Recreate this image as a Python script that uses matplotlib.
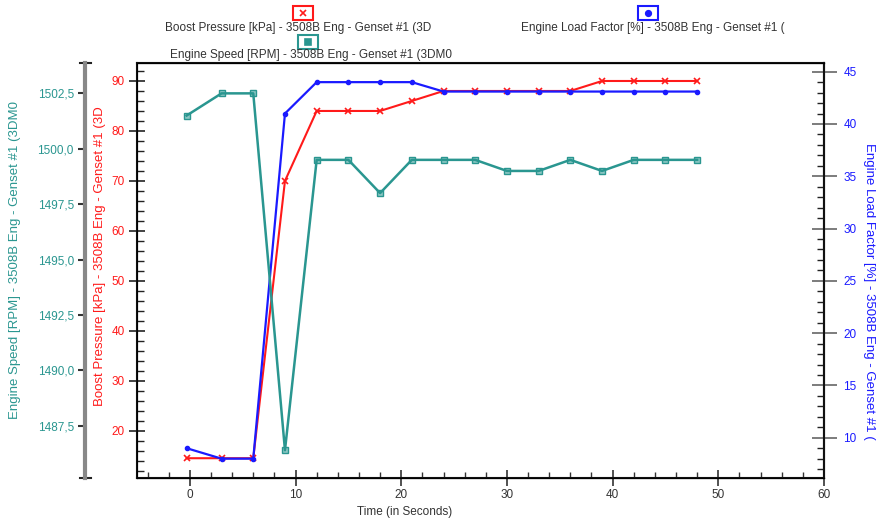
import matplotlib.pyplot as plt
from matplotlib.lines import Line2D
from matplotlib.patches import Rectangle
from matplotlib.ticker import MultipleLocator, FuncFormatter

plt.rcParams['font.family'] = ['Liberation Sans', 'DejaVu Sans']

# dati
time_s = [-0.3, 3, 6, 9, 12, 15, 18, 21, 24, 27, 30, 33, 36, 39, 42, 45, 48]
boost = [14.5, 14.5, 14.5, 70, 84, 84, 84, 86, 88, 88, 88, 88, 88, 90, 90, 90, 90]
load = [9, 8, 8, 41, 44, 44, 44, 44, 43.1, 43.1, 43.1, 43.1, 43.1, 43.1, 43.1, 43.1, 43.1]
speed = [1501.5, 1502.5, 1502.5, 1486.4, 1499.5, 1499.5, 1498, 1499.5, 1499.5, 1499.5,
         1499, 1499, 1499.5, 1499, 1499.5, 1499.5, 1499.5]

lbl_boost = "Boost Pressure [kPa] - 3508B Eng - Genset #1 (3D"
lbl_load = "Engine Load Factor [%] - 3508B Eng - Genset #1 ("
lbl_speed = "Engine Speed [RPM] - 3508B Eng - Genset #1 (3DM0"

RED = '#ff1a1a'
BLUE = '#1a1aff'
TEAL = '#2a9690'
FS = 8.5      # testi orizzontali
FSV = 9.5     # etichette verticali

W, H = 879, 522
fig = plt.figure(figsize=(W / 100, H / 100), dpi=100)
ax = fig.add_axes([137 / W, 1 - 477.7 / H, 687 / W, 414.7 / H])
ax_load = ax.twinx()
ax_speed = ax.twinx()

# linee
ax_speed.plot(time_s, speed, color=TEAL, lw=1.8, marker='s', ms=4,
              mfc=TEAL + '88', mec=TEAL, zorder=2)
ax.plot(time_s, boost, color=RED, lw=1.5, marker='x', ms=4, mew=1.2, zorder=3)
ax_load.plot(time_s, load, color=BLUE, lw=1.6, marker='o', ms=3, zorder=3)

# asse x
ax.set_xlim(-5, 60)
ax.xaxis.set_major_locator(MultipleLocator(10))
ax.xaxis.set_minor_locator(MultipleLocator(2))
ax.tick_params(axis='x', which='major', direction='inout', length=12, width=1.2,
               labelsize=FS, colors='#333333', pad=2)
ax.tick_params(axis='x', which='minor', direction='in', length=4, width=1, colors='#333333')
fig.text(405 / W, 1 - 512 / H, 'Time (in Seconds)', ha='center', va='center',
         fontsize=FS, color='#333333')

# asse boost (sinistra)
ax.set_ylim(10.6, 93.6)
ax.yaxis.set_major_locator(MultipleLocator(10))
ax.yaxis.set_minor_locator(MultipleLocator(2))
ax.yaxis.set_major_formatter(FuncFormatter(lambda v, p: f'{v:.0f}' if v >= 20 else ''))
ax.tick_params(axis='y', which='major', direction='inout', length=12, width=1.2,
               labelsize=FS, labelcolor=RED, color='#222222', pad=3)
ax.tick_params(axis='y', which='minor', direction='in', length=5, width=1, color='#222222')
fig.text(100 / W, 1 - 256 / H, lbl_boost, rotation=90, ha='center', va='center',
         color=RED, fontsize=FSV)

# asse carico (destra)
ax_load.set_ylim(6.18, 45.83)
ax_load.yaxis.set_major_locator(MultipleLocator(5))
ax_load.yaxis.set_minor_locator(MultipleLocator(1))
ax_load.tick_params(axis='y', which='major', direction='inout', length=18, width=1.2,
                    labelsize=FS, labelcolor=BLUE, color='#666666', pad=5)
ax_load.tick_params(axis='y', which='minor', direction='in', length=5, width=1, color='#222222')
ax_load.yaxis.set_major_formatter(FuncFormatter(lambda v, p: f'{v:.0f}' if v >= 10 else ''))
fig.text(869 / W, 1 - 291 / H, lbl_load, rotation=270, ha='center', va='center',
         color=BLUE, fontsize=FSV)

# asse velocità (spina grigia esterna)
ax_speed.set_ylim(1485.16, 1503.87)
ax_speed.spines['right'].set_visible(False)
ax_speed.spines['left'].set_visible(True)
ax_speed.spines['left'].set_position(('axes', (85 - 137) / 687))
ax_speed.spines['left'].set_color('#888888')
ax_speed.spines['left'].set_linewidth(3)
ax_speed.yaxis.set_ticks_position('left')
ax_speed.yaxis.set_major_locator(MultipleLocator(2.5))
ax_speed.yaxis.set_major_formatter(
    FuncFormatter(lambda v, p: f'{v:.1f}'.replace('.', ',') if 1487 < v < 1503 else ''))
ax_speed.tick_params(axis='y', which='major', direction='out', length=5, width=1.5,
                     labelsize=FS, labelcolor=TEAL, color='#333333', pad=3)
for yy in (0, 1):
    ax_speed.plot([(80 - 137) / 687, (91 - 137) / 687], [yy, yy], color='#222222', lw=1.5,
                  transform=ax_speed.transAxes, clip_on=False)
fig.text(15 / W, 1 - 260 / H, lbl_speed, rotation=90, ha='center', va='center',
         color=TEAL, fontsize=FSV)

for a in (ax, ax_load, ax_speed):
    a.patch.set_visible(False)
for s in ('top', 'bottom', 'left', 'right'):
    ax.spines[s].set_linewidth(1.5)
    ax.spines[s].set_color('#111111')
ax_load.spines['right'].set_linewidth(1.5)
ax_load.spines['right'].set_color('#111111')


# legenda in alto
def legend_item(bx, by, tx, ty, text, color, marker):
    fig.add_artist(Rectangle(((bx - 10) / W, 1 - (by + 7) / H), 20 / W, 14 / H,
                             transform=fig.transFigure, fill=False, edgecolor=color, lw=1.5))
    fig.add_artist(Line2D([bx / W], [1 - by / H], marker=marker, color=color, ms=4,
                          mew=1.2, transform=fig.transFigure))
    fig.text(tx / W, 1 - ty / H, text, ha='center', va='center', fontsize=FS, color='#333333')


legend_item(303, 13, 298, 28, lbl_boost, RED, 'x')
legend_item(648, 13, 653, 28, lbl_load, BLUE, 'o')
legend_item(308, 42, 311, 55, lbl_speed, TEAL, 's')

fig.savefig('out.png', dpi=100)
